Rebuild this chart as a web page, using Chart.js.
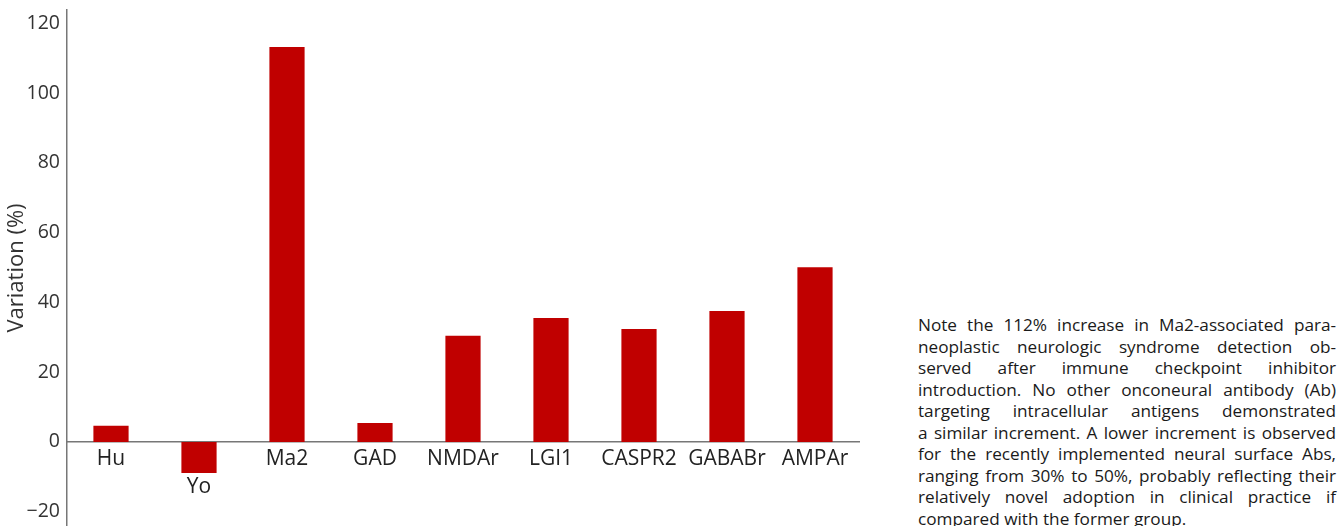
<!DOCTYPE html>
<html><head><meta charset="utf-8">
<script src="https://cdn.jsdelivr.net/npm/chart.js@4/dist/chart.umd.min.js"></script>
<style>
html,body{margin:0;padding:0;background:#fff;}
#wrap{position:relative;width:1341px;height:526px;overflow:hidden;}
#cv{position:absolute;left:0;top:0;}
#note{position:absolute;left:918px;top:314px;width:418px;font-family:"Open Sans",sans-serif;font-size:17.2px;color:#1a1a1a;}
#note div{height:21.5px;line-height:21.5px;white-space:nowrap;text-align:justify;text-align-last:justify;}
#note div.last{text-align:left;text-align-last:left;}
</style></head>
<body><div id="wrap"><div style="position:absolute;left:0;top:0;width:880px;height:526px"><canvas id="cv"></canvas></div>
<div id="note"></div></div>
<script>
const categories = ['Hu', 'Yo', 'Ma2', 'GAD', 'NMDAr', 'LGI1', 'CASPR2', 'GABABr', 'AMPAr'];
const variation = [4.6, -8.9, 113.2, 5.4, 30.4, 35.5, 32.4, 37.5, 50.1];
const yTicks = [-20, 0, 20, 40, 60, 80, 100, 120];
const noteLines = [
  'Note the 112% increase in Ma2-associated para-',
  'neoplastic neurologic syndrome detection ob-',
  'served after immune checkpoint inhibitor',
  'introduction. No other onconeural antibody (Ab)',
  'targeting intracellular antigens demonstrated',
  'a similar increment. A lower increment is observed',
  'for the recently implemented neural surface Abs,',
  'ranging from 30% to 50%, probably reflecting their',
  'relatively novel adoption in clinical practice if',
  'compared with the former group.'
];

// note text, one justified line per source line
const note = document.getElementById('note');
noteLines.forEach((t, i) => {
  const d = document.createElement('div');
  if (i === noteLines.length - 1) d.className = 'last';
  const s = document.createElement('span');
  s.textContent = t;
  d.appendChild(s);
  note.appendChild(d);
  const w = s.getBoundingClientRect().width;
  const target = 417;
  if (w > target && i !== noteLines.length - 1) {
    const spaces = (t.match(/ /g) || []).length;
    d.style.wordSpacing = (-(w - target) / Math.max(spaces, 1)) * 0.5 + 'px';
    const w2 = s.getBoundingClientRect().width;
    if (w2 > target) d.style.letterSpacing = (-(w2 - target) / t.length) + 'px';
  }
});

const labels = categories.map((c, i) => variation[i] < 0 ? ['', c] : c);

new Chart(document.getElementById('cv'), {
  type: 'bar',
  data: { labels: labels, datasets: [{ data: variation, backgroundColor: '#c00000', borderWidth: 0, barPercentage: 0.8, categoryPercentage: 0.5 }] },
  options: {
    responsive: true, maintainAspectRatio: false, animation: false,
    layout: { padding: { top: 10, right: 21, left: 0, bottom: 0 } },
    plugins: { legend: { display: false }, tooltip: { enabled: false } },
    scales: {
      x: {
        position: { y: 0 },
        grid: { display: false, drawTicks: false },
        border: { display: true, color: '#777', width: 1.5 },
        ticks: { color: '#222', font: { family: 'Open Sans', size: 21, lineHeight: 1.333 }, padding: 3.5, maxRotation: 0, autoSkip: false }
      },
      y: {
        min: -24.1, max: 123.8,
        afterBuildTicks: (s) => { s.ticks = yTicks.map(v => ({ value: v })); },
        afterFit: (s) => { s.width = 67; s.paddingTop = 0; s.paddingBottom = 0; },
        grid: { display: false, drawTicks: false },
        border: { display: true, color: '#777', width: 1.5 },
        ticks: { color: '#333', font: { family: 'Open Sans', size: 19.5 }, padding: 7, includeBounds: false,
          callback: (v) => v < 0 ? '\u2212' + Math.abs(v) : String(v) },
        title: { display: true, text: 'Variation (%)', color: '#333', font: { family: 'Open Sans', size: 22 }, padding: { top: 4, bottom: 0 } }
      }
    }
  }
});
</script>
</body></html>
